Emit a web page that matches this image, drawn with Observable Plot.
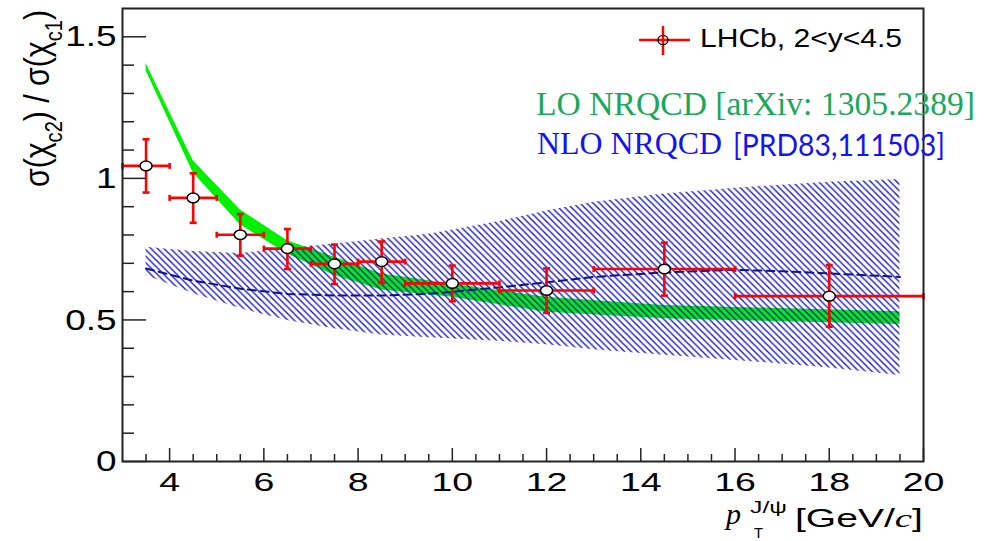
<!DOCTYPE html>
<html><head><meta charset="utf-8">
<script src="https://cdn.jsdelivr.net/npm/d3@7"></script>
<script src="https://cdn.jsdelivr.net/npm/@observablehq/plot@0.6"></script>
<style>
html,body{margin:0;padding:0;background:#fff;}
#chart{width:985px;height:541px;overflow:hidden;}
</style></head><body><div id="chart"></div>
<script>
// ---- LHCb measurement: sigma(chi_c2)/sigma(chi_c1) vs pT(J/psi) ----
const ptCenter  = [3.5, 4.5, 5.5, 6.5, 7.5, 8.5, 10, 12, 14.5, 18];
const ptLow     = [3, 4, 5, 6, 7, 8, 9, 11, 13, 16];
const ptHigh    = [4, 5, 6, 7, 8, 9, 11, 13, 16, 20];
const ratio     = [1.044, 0.931, 0.801, 0.752, 0.698, 0.706, 0.629, 0.604, 0.680, 0.584];
const ratioLow  = [0.950, 0.843, 0.727, 0.680, 0.627, 0.631, 0.566, 0.525, 0.586, 0.476];
const ratioHigh = [1.138, 1.018, 0.874, 0.821, 0.766, 0.777, 0.692, 0.682, 0.773, 0.694];

// ---- LO NRQCD band [arXiv:1305.2389] ----
const loPt   = [3.5, 4.5, 5.5, 6.5, 7.5, 8.5, 10, 12, 14.5, 19.5];
const loLow  = [1.380, 1.020, 0.836, 0.733, 0.657, 0.606, 0.580, 0.527, 0.504, 0.484];
const loHigh = [1.406, 1.062, 0.888, 0.780, 0.721, 0.662, 0.627, 0.580, 0.551, 0.529];

// ---- NLO NRQCD band [PRD83,111503] ----
const nloPt      = [3.5, 4.5, 5.5, 6.5, 7.5, 8.5, 9.5, 11, 12, 13, 14.5, 16, 17, 18, 19.5];
const nloLow     = [0.657, 0.593, 0.540, 0.498, 0.469, 0.447, 0.437, 0.425, 0.412, 0.395, 0.375, 0.357, 0.344, 0.330, 0.304];
const nloHigh    = [0.757, 0.742, 0.735, 0.751, 0.768, 0.786, 0.803, 0.848, 0.885, 0.916, 0.945, 0.965, 0.976, 0.986, 0.996];
const nloCentral = [0.682, 0.639, 0.610, 0.592, 0.586, 0.586, 0.592, 0.615, 0.633, 0.652, 0.668, 0.677, 0.672, 0.664, 0.652];

// ---- ticks ----
const xMajor = [4, 6, 8, 10, 12, 14, 16, 18, 20];
const xMinor = [3.5, 4.5, 5, 5.5, 6.5, 7, 7.5, 8.5, 9, 9.5, 10.5, 11, 11.5, 12.5, 13, 13.5, 14.5, 15, 15.5, 16.5, 17, 17.5, 18.5, 19, 19.5];
const yMajor = [0, 0.5, 1, 1.5];
const yMinor = [0.1, 0.2, 0.3, 0.4, 0.6, 0.7, 0.8, 0.9, 1.1, 1.2, 1.3, 1.4];

const points = ptCenter.map((x, i) => ({x, xlo: ptLow[i], xhi: ptHigh[i], y: ratio[i], ylo: ratioLow[i], yhi: ratioHigh[i]}));
const lo = loPt.map((x, i) => ({x, lo: loLow[i], hi: loHigh[i]}));
const nlo = nloPt.map((x, i) => ({x, lo: nloLow[i], hi: nloHigh[i], c: nloCentral[i]}));

const SANS = "'Liberation Sans', Arial, Helvetica, sans-serif";
const SERIF = "'Liberation Serif', 'Times New Roman', serif";

const ellipse = {draw(ctx) {
  const rx = 6, ry = 4.8, k = 0.5523;
  ctx.moveTo(rx, 0);
  ctx.bezierCurveTo(rx, ry * k, rx * k, ry, 0, ry);
  ctx.bezierCurveTo(-rx * k, ry, -rx, ry * k, -rx, 0);
  ctx.bezierCurveTo(-rx, -ry * k, -rx * k, -ry, 0, -ry);
  ctx.bezierCurveTo(rx * k, -ry, rx, -ry * k, rx, 0);
  ctx.closePath();
}};
const capH = {draw(ctx) { ctx.moveTo(-3.5, 0); ctx.lineTo(3.5, 0); }};
const capV = {draw(ctx) { ctx.moveTo(0, -3); ctx.lineTo(0, 3); }};

const RED = "#ff0000", EW = 2.6;

const plot = Plot.plot({
  width: 985, height: 541,
  marginLeft: 122, marginRight: 62, marginTop: 8, marginBottom: 80,
  style: {fontFamily: SANS, background: "white", color: "#222"},
  x: {domain: [3, 20], label: null},
  y: {domain: [0, 1.6], label: null},
  marks: [
    Plot.areaY(lo, {x: "x", y1: "lo", y2: "hi", fill: "#00f000"}),
    Plot.areaY(nlo, {x: "x", y1: "lo", y2: "hi", fill: "url(#nloHatch)"}),
    Plot.line(nlo, {x: "x", y: "c", stroke: "#12128a", strokeWidth: 2, strokeDasharray: "8,5"}),
    Plot.ruleY(points, {x1: "xlo", x2: "xhi", y: "y", stroke: RED, strokeWidth: EW}),
    Plot.ruleX(points, {x: "x", y1: "ylo", y2: "yhi", stroke: RED, strokeWidth: EW}),
    Plot.dot(points, {x: "x", y: "yhi", symbol: capH, fill: "none", stroke: RED, strokeWidth: EW}),
    Plot.dot(points, {x: "x", y: "ylo", symbol: capH, fill: "none", stroke: RED, strokeWidth: EW}),
    Plot.dot(points, {x: "xlo", y: "y", symbol: capV, fill: "none", stroke: RED, strokeWidth: EW}),
    Plot.dot(points, {x: "xhi", y: "y", symbol: capV, fill: "none", stroke: RED, strokeWidth: EW}),
    Plot.dot(points, {x: "x", y: "y", symbol: ellipse, fill: "white", stroke: "black", strokeWidth: 1.5}),
    Plot.frame({stroke: "#222", strokeWidth: 2}),
    Plot.axisY({ticks: yMinor, tickSize: -12, tickFormat: () => "", label: null, stroke: "#222", strokeWidth: 1.5}),
    Plot.axisY({ticks: yMajor, tickSize: -24, tickPadding: 30, tickFormat: d => String(d), fontSize: 30, label: null, stroke: "#222", strokeWidth: 1.5, fill: "black"}),
    Plot.axisX({ticks: xMinor, tickSize: -7, tickFormat: () => "", label: null, stroke: "#222", strokeWidth: 1.5}),
    Plot.axisX({ticks: xMajor, tickSize: -13, tickPadding: 25, tickFormat: d => String(d), fontSize: 25, label: null, stroke: "#222", strokeWidth: 1.5, fill: "black"})
  ]
});
document.getElementById("chart").appendChild(plot);

const svg = d3.select(plot);
// hatch pattern for NLO band
const defs = svg.insert("defs", ":first-child");
const pat = defs.append("pattern").attr("id", "nloHatch").attr("patternUnits", "userSpaceOnUse")
  .attr("width", 6.5).attr("height", 6.5);
pat.append("path").attr("d", "M-1,-1 L7.5,7.5 M-1,5.5 L1,7.5 M5.5,-1 L7.5,1")
  .attr("stroke", "#1a1ac8").attr("stroke-width", 1.4).attr("fill", "none");

// stretch tick labels horizontally like the reference
svg.selectAll('g[aria-label="y-axis tick label"] text').attr("transform", function() {
  return (this.getAttribute("transform") || "") + " scale(1.23,1)";
});
svg.selectAll('g[aria-label="x-axis tick label"] text').attr("transform", function() {
  return (this.getAttribute("transform") || "") + " scale(1.5,1)";
});

// overlay group for titles, legend and annotations (left-anchored text)
const ov = svg.append("g").attr("text-anchor", "start");

// y-axis title
const yt = ov.append("text").attr("transform", "translate(49,187) scale(1.15,1) rotate(-90)")
  .attr("font-family", SANS).attr("font-size", 30).attr("fill", "black")
  .attr("textLength", 177).attr("lengthAdjust", "spacingAndGlyphs");
yt.append("tspan").text("σ(χ");
yt.append("tspan").attr("font-size", 20).attr("dy", 11).text("c2");
yt.append("tspan").attr("dy", -11).text(") / σ(χ");
yt.append("tspan").attr("font-size", 20).attr("dy", 11).text("c1");
yt.append("tspan").attr("dy", -11).text(")");

// x-axis title
ov.append("text").attr("x", 726).attr("y", 524).attr("font-family", SERIF).attr("font-style", "italic")
  .attr("font-size", 30).attr("fill", "black").text("p");
ov.append("text").attr("x", 750).attr("y", 513).attr("font-family", SANS).attr("font-size", 17)
  .attr("fill", "black").attr("textLength", 37).attr("lengthAdjust", "spacingAndGlyphs").text("J/ψ");
ov.append("text").attr("x", 754).attr("y", 538).attr("font-family", SANS).attr("font-size", 15)
  .attr("fill", "black").attr("textLength", 9).attr("lengthAdjust", "spacingAndGlyphs").text("T");
const xu = ov.append("text").attr("x", 795).attr("y", 527).attr("font-family", SANS).attr("font-size", 26)
  .attr("fill", "black").attr("textLength", 128).attr("lengthAdjust", "spacingAndGlyphs");
xu.append("tspan").text("[GeV/");
xu.append("tspan").attr("font-family", SERIF).attr("font-style", "italic").text("c");
xu.append("tspan").text("]");

// legend entry (LHCb)
const lg = ov.append("g").attr("aria-label", "legend");
lg.append("line").attr("x1", 639).attr("x2", 690).attr("y1", 40).attr("y2", 40).attr("stroke", RED).attr("stroke-width", 2.5);
lg.append("line").attr("x1", 663).attr("x2", 663).attr("y1", 26).attr("y2", 55).attr("stroke", RED).attr("stroke-width", 2.5);
lg.append("ellipse").attr("cx", 663).attr("cy", 40).attr("rx", 5).attr("ry", 4.6).attr("fill", "none").attr("stroke", "black").attr("stroke-width", 1.4);
lg.append("text").attr("x", 700).attr("y", 47).attr("font-family", SANS).attr("font-size", 26).attr("fill", "black")
  .attr("textLength", 202).attr("lengthAdjust", "spacingAndGlyphs").text("LHCb, 2<y<4.5");

// model annotations
ov.append("text").attr("x", 536).attr("y", 115).attr("font-family", SERIF).attr("font-size", 33)
  .attr("fill", "#1aa85c").attr("textLength", 439).attr("lengthAdjust", "spacingAndGlyphs")
  .text("LO NRQCD [arXiv: 1305.2389]");
ov.append("text").attr("x", 537).attr("y", 154).attr("font-family", SERIF).attr("font-size", 32)
  .attr("fill", "#1414f0").attr("textLength", 185).attr("lengthAdjust", "spacingAndGlyphs")
  .text("NLO NRQCD");
ov.append("text").attr("x", 733).attr("y", 156).attr("font-family", "Lato, 'Open Sans', sans-serif").attr("font-size", 30)
  .attr("fill", "#1414f0").attr("textLength", 212).attr("lengthAdjust", "spacingAndGlyphs")
  .text("[PRD83,111503]");
</script>
</body></html>
